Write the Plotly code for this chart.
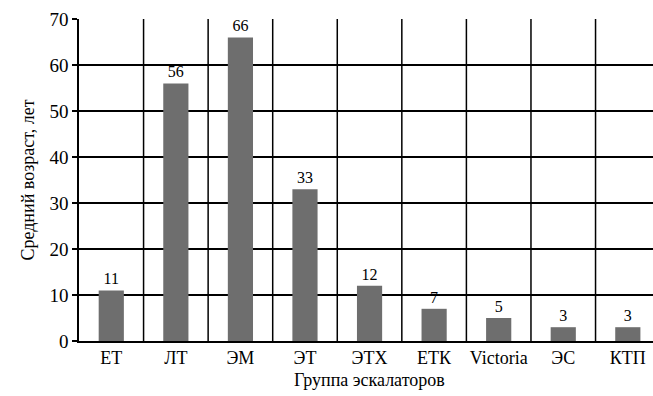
import plotly.graph_objects as go

# Average escalator age by group
groups = ["ЕТ", "ЛТ", "ЭМ", "ЭТ", "ЭТХ", "ЕТК", "Victoria", "ЭС", "КТП"]
avg_age = [11, 56, 66, 33, 12, 7, 5, 3, 3]
y_ticks = [0, 10, 20, 30, 40, 50, 60, 70]

SERIF = "Times New Roman"
pos = list(range(len(groups)))
boundaries = [i + 0.5 for i in pos]

fig = go.Figure(
    go.Bar(
        x=pos,
        y=avg_age,
        width=0.39,
        marker=dict(color="#6e6e6e", line=dict(width=0)),
        text=avg_age,
        textposition="outside",
        textfont=dict(family=SERIF, size=16),
    )
)

# vertical separators between groups
for b in boundaries:
    fig.add_shape(type="line", xref="x", yref="paper", x0=b, x1=b, y0=0, y1=1,
                  line=dict(color="black", width=1.5), layer="below")

fig.update_layout(
    width=653,
    height=396,
    margin=dict(l=79, r=0, t=19, b=55),
    plot_bgcolor="white",
    showlegend=False,
    font=dict(color="black"),
    xaxis=dict(
        range=[-0.5, 8.39],
        tickvals=pos,
        ticktext=groups,
        tickfont=dict(family=SERIF, size=18),
        showgrid=False,
        ticks="",
        showline=True,
        linecolor="black",
        linewidth=1.5,
        zeroline=False,
    ),
    yaxis=dict(
        range=[0, 70],
        tickvals=y_ticks,
        tickfont=dict(family=SERIF, size=19),
        showgrid=True,
        gridcolor="black",
        gridwidth=1.5,
        ticks="outside",
        ticklen=5,
        tickwidth=1.5,
        tickcolor="black",
        zeroline=False,
        showline=True,
        linecolor="black",
        linewidth=1.5,
        title=dict(text="Средний возраст, лет",
                   font=dict(family=SERIF, size=18),
                   standoff=10),
    ),
    annotations=[
        dict(text="Группа эскалаторов", xref="paper", yref="paper",
             x=(369.5 - 79) / (653 - 79), y=-0.121, yanchor="middle",
             showarrow=False, font=dict(family=SERIF, size=18)),
    ],
)

fig.write_html("out.html")
